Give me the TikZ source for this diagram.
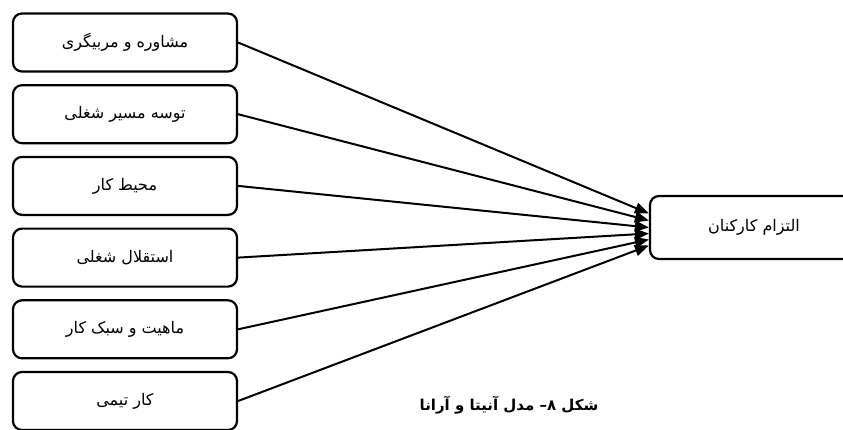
\documentclass[tikz,border=0pt]{standalone}
\usepackage{fontspec}
\newfontfamily\farsifont[Script=Arabic]{DejaVu Sans}
\TeXXeTstate=1
\usetikzlibrary{arrows.meta, positioning}

\begin{document}
\begin{tikzpicture}[x=1pt, y=-1pt,
      factor/.style={rectangle, draw, line width=2.2pt, rounded corners=9pt,
                     minimum width=224pt, minimum height=58pt,
                     font=\farsifont\fontsize{16}{18}\selectfont},
      outcome/.style={factor, minimum width=208pt, minimum height=63pt},
      arr/.style={-{Triangle[length=14pt,width=11pt]}, line width=2pt},
    ]
    \useasboundingbox (0,0) rectangle (843,429);
    \node[factor] (coach) at (125,42.5) {\beginR مشاوره و مربیگری\endR};
    \node[factor, below=11.5pt of coach] (career) {\beginR توسه مسیر شغلی\endR};
    \node[factor, below=11.5pt of career] (env) {\beginR محیط کار\endR};
    \node[factor, below=11.5pt of env] (autonomy) {\beginR استقلال شغلی\endR};
    \node[factor, below=11.5pt of autonomy] (nature) {\beginR ماهیت و سبک کار\endR};
    \node[factor, below=11.5pt of nature] (team) {\beginR کار تیمی\endR};
    \node[outcome] (commit) at (754,227.5) {\beginR التزام کارکنان\endR};
    \node[font=\farsifont\bfseries\fontsize{15}{17}\selectfont] (caption) at (509,405)
      {\beginR شکل ۸– مدل آنیتا و آرانا\endR};
    \foreach \f/\s in {coach/14, career/7, env/0, autonomy/-6, nature/-12, team/-18}
      \draw[arr] (\f.east) -- ([yshift=\s pt]commit.west);
  \end{tikzpicture}
\end{document}
